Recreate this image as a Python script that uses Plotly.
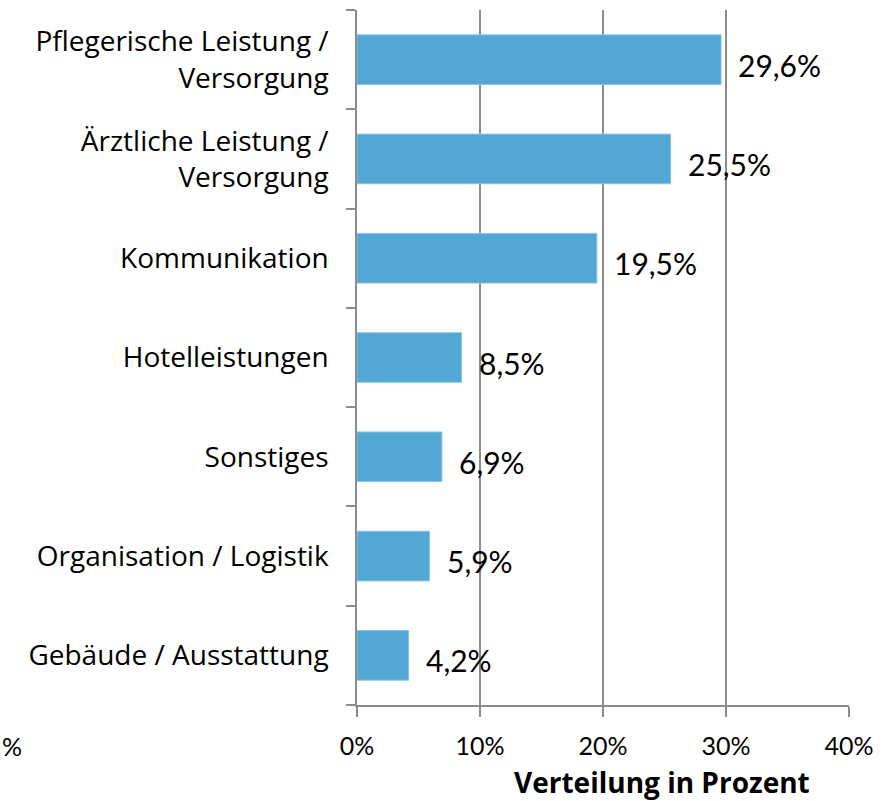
import plotly.graph_objects as go

categories = [
    "Pflegerische Leistung /<br>Versorgung",
    "Ärztliche Leistung /<br>Versorgung",
    "Kommunikation",
    "Hotelleistungen",
    "Sonstiges",
    "Organisation / Logistik",
    "Gebäude / Ausstattung",
]
values = [29.6, 25.5, 19.5, 8.5, 6.9, 5.9, 4.2]
value_labels = ["29,6%", "25,5%", "19,5%", "8,5%", "6,9%", "5,9%", "4,2%"]
x_ticks = [0, 10, 20, 30, 40]
x_tick_labels = ["0%", "10%", "20%", "30%", "40%"]
axis_title = "Verteilung in Prozent"

W, H = 896, 801
L, R, T, B = 357, 47, 10, 96
plot_w = W - L - R
plot_h = H - T - B

fig = go.Figure(go.Bar(
    x=values, y=categories, orientation="h",
    marker=dict(color="#53A7D4", line=dict(color="#8CC3E3", width=1)),
    width=0.5, hoverinfo="skip",
))

for v, lab, c in zip(values, value_labels, categories):
    fig.add_annotation(x=v, y=c, text=lab, showarrow=False, xanchor="left",
                       xshift=15, yshift=-5,
                       font=dict(family="Lato", size=30, color="#000000"))

fig.add_annotation(xref="paper", yref="paper", x=(662 - L) / plot_w,
                   y=-(782 - (H - B)) / plot_h, text="<b>" + axis_title + "</b>",
                   showarrow=False, xanchor="center", yanchor="middle",
                   font=dict(family="Open Sans", size=28, color="#000000"))
fig.add_annotation(xref="paper", yref="paper", x=(0 - L) / plot_w,
                   y=-(746 - (H - B)) / plot_h, text="%",
                   showarrow=False, xanchor="left", yanchor="middle",
                   font=dict(family="Lato", size=25, color="#000000"))

fig.update_layout(
    width=W, height=H,
    margin=dict(l=L, r=R, t=T, b=B, pad=0),
    paper_bgcolor="white", plot_bgcolor="white",
    showlegend=False,
    xaxis=dict(range=[0, 40], tickvals=x_ticks, ticktext=x_tick_labels,
               showgrid=True, gridcolor="#8C8C8C", gridwidth=1.5,
               showline=True, linecolor="#8C8C8C", linewidth=1.5,
               ticks="outside", ticklen=10, tickcolor="#8C8C8C", tickwidth=1.5,
               ticklabelstandoff=8, zeroline=False,
               tickfont=dict(family="Lato", size=25, color="#000000")),
    yaxis=dict(categoryorder="array", categoryarray=categories[::-1],
               showline=True, linecolor="#8C8C8C", linewidth=1.5,
               ticks="outside", ticklen=9, tickcolor="#8C8C8C", tickwidth=1.5,
               tickson="boundaries", showgrid=False, zeroline=False,
               ticklabelstandoff=21,
               tickfont=dict(family="Open Sans", size=28, color="#000000")),
)

fig.write_html("out.html", config={"displayModeBar": False},
               post_script="document.body.style.margin='0';document.body.style.overflow='hidden';")
